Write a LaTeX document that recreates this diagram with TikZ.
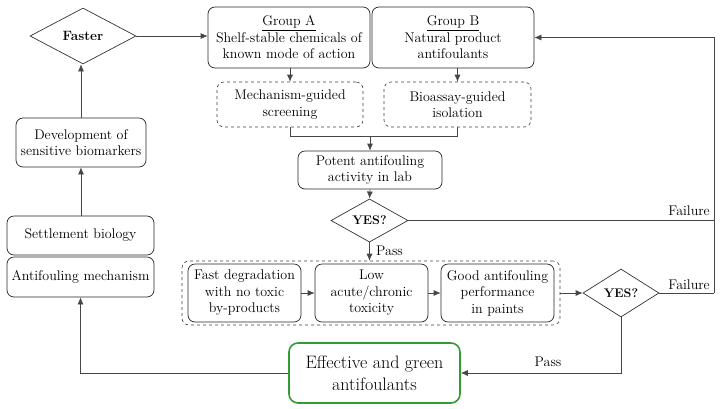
\documentclass[tikz,border=0pt]{standalone}
\usetikzlibrary{shapes.geometric,arrows.meta}
\definecolor{ln}{RGB}{70,70,70}
\definecolor{gr}{RGB}{50,155,50}
\begin{document}
\begin{tikzpicture}[x=1pt,y=-1pt,
  box/.style={draw=black!85,rounded corners=7pt,align=center,inner sep=1pt,line width=0.7pt,font=\fontsize{14}{16.5}\selectfont},
  dbox/.style={box,dashed,draw=black!75,line width=0.6pt},
  dia/.style={draw=black!80,diamond,inner sep=0pt,line width=0.7pt,font=\bfseries\fontsize{13.5}{16}\selectfont},
  arr/.style={draw=ln,line width=0.7pt,-{Latex[length=7pt,width=6pt]}},
  ln/.style={draw=ln,line width=0.7pt},
  lab/.style={font=\fontsize{14}{16.5}\selectfont,inner sep=0pt}]
\useasboundingbox (0,0) rectangle (723,408);
\node[dia,minimum width=106pt,minimum height=56pt] (faster) at (83,36) {Faster};
\node[box,minimum width=162pt,minimum height=61pt] (grpA) at (289,37.5) {\underline{Group A}\\Shelf-stable chemicals of\\known mode of action};
\node[box,minimum width=162pt,minimum height=61pt] (grpB) at (453,37.5) {\underline{Group B}\\Natural product\\antifoulants};
\node[dbox,minimum width=146pt,minimum height=45pt] (mech) at (290,104.5) {Mechanism-guided\\screening};
\node[dbox,minimum width=147pt,minimum height=45pt] (bio) at (457.5,104.5) {Bioassay-guided\\isolation};
\node[box,minimum width=144pt,minimum height=38pt] (potent) at (370,170) {Potent antifouling\\activity in lab};
\node[dia,minimum width=77pt,minimum height=37pt,font=\bfseries\fontsize{12.5}{16}\selectfont] (yes1) at (369.5,220.5) {YES?};
\node[draw=black!75,dashed,rounded corners=7pt,line width=0.6pt,minimum width=378pt,minimum height=64pt] (outer) at (371,293) {};
\node[box,minimum width=113pt,minimum height=58pt] (fast) at (244.5,293) {Fast degradation\\with no toxic\\by-products};
\node[box,minimum width=113pt,minimum height=58pt] (low) at (371.5,293) {Low\\acute/chronic\\toxicity};
\node[box,minimum width=113pt,minimum height=58pt] (good) at (497.5,293) {Good antifouling\\performance\\in paints};
\node[dia,minimum width=76pt,minimum height=48pt,font=\bfseries\fontsize{12.5}{16}\selectfont] (yes2) at (621,293) {YES?};
\node[box,draw=gr,line width=1.6pt,rounded corners=9pt,minimum width=171pt,minimum height=60pt,font=\fontsize{18}{22}\selectfont] (green) at (374.5,373) {Effective and green\\antifoulants};
\node[box,minimum width=147pt,minimum height=40pt] (anti) at (80.5,277) {Antifouling mechanism};
\node[box,minimum width=147pt,minimum height=39pt] (settle) at (80.5,235.5) {Settlement biology};
\node[box,minimum width=130pt,minimum height=49pt] (dev) at (81,142.5) {Development of\\sensitive biomarkers};
% connectors
\draw[arr] (faster.east) -- (grpA.west |- faster.east);
\draw[arr] (grpA.south -| mech.north) -- (mech.north);
\draw[arr] (grpB.south -| bio.north) -- (bio.north);
\coordinate (j) at (370,136);
\draw[ln] (mech.south) |- (j);
\draw[ln] (bio.south) |- (j);
\draw[arr] (j) -- (potent.north);
\draw[arr] (potent.south) -- (yes1.north);
\draw[arr] (yes1.south) -- (outer.north -| yes1.south);
\node[lab,anchor=west] (pass1) at (376,251) {Pass};
\draw[arr] (fast.east) -- (low.west);
\draw[arr] (low.east) -- (good.west);
\draw[arr] (outer.east) -- (yes2.west);
\coordinate (fr) at (714,293);
\draw[ln] (yes2.east) -- (fr);
\draw[arr] (fr) |- (grpB.east);
\draw[ln] (yes1.east) -- (yes1.east -| fr);
\node[lab,anchor=south east] (fail1) at (710,216) {Failure};
\node[lab,anchor=south east] (fail2) at (710,290) {Failure};
\coordinate (pc) at (621,373);
\draw[arr] (yes2.south) -- (pc) -- (green.east);
\node[lab] (pass2) at (548,362) {Pass};
\coordinate (lc) at (80.5,373);
\draw[arr] (green.west) -- (lc) -- (anti.south);
\draw[arr] (settle.north -| dev.south) -- (dev.south);
\draw[arr] (dev.north) -- (dev.north |- faster.south);
\end{tikzpicture}
\end{document}
